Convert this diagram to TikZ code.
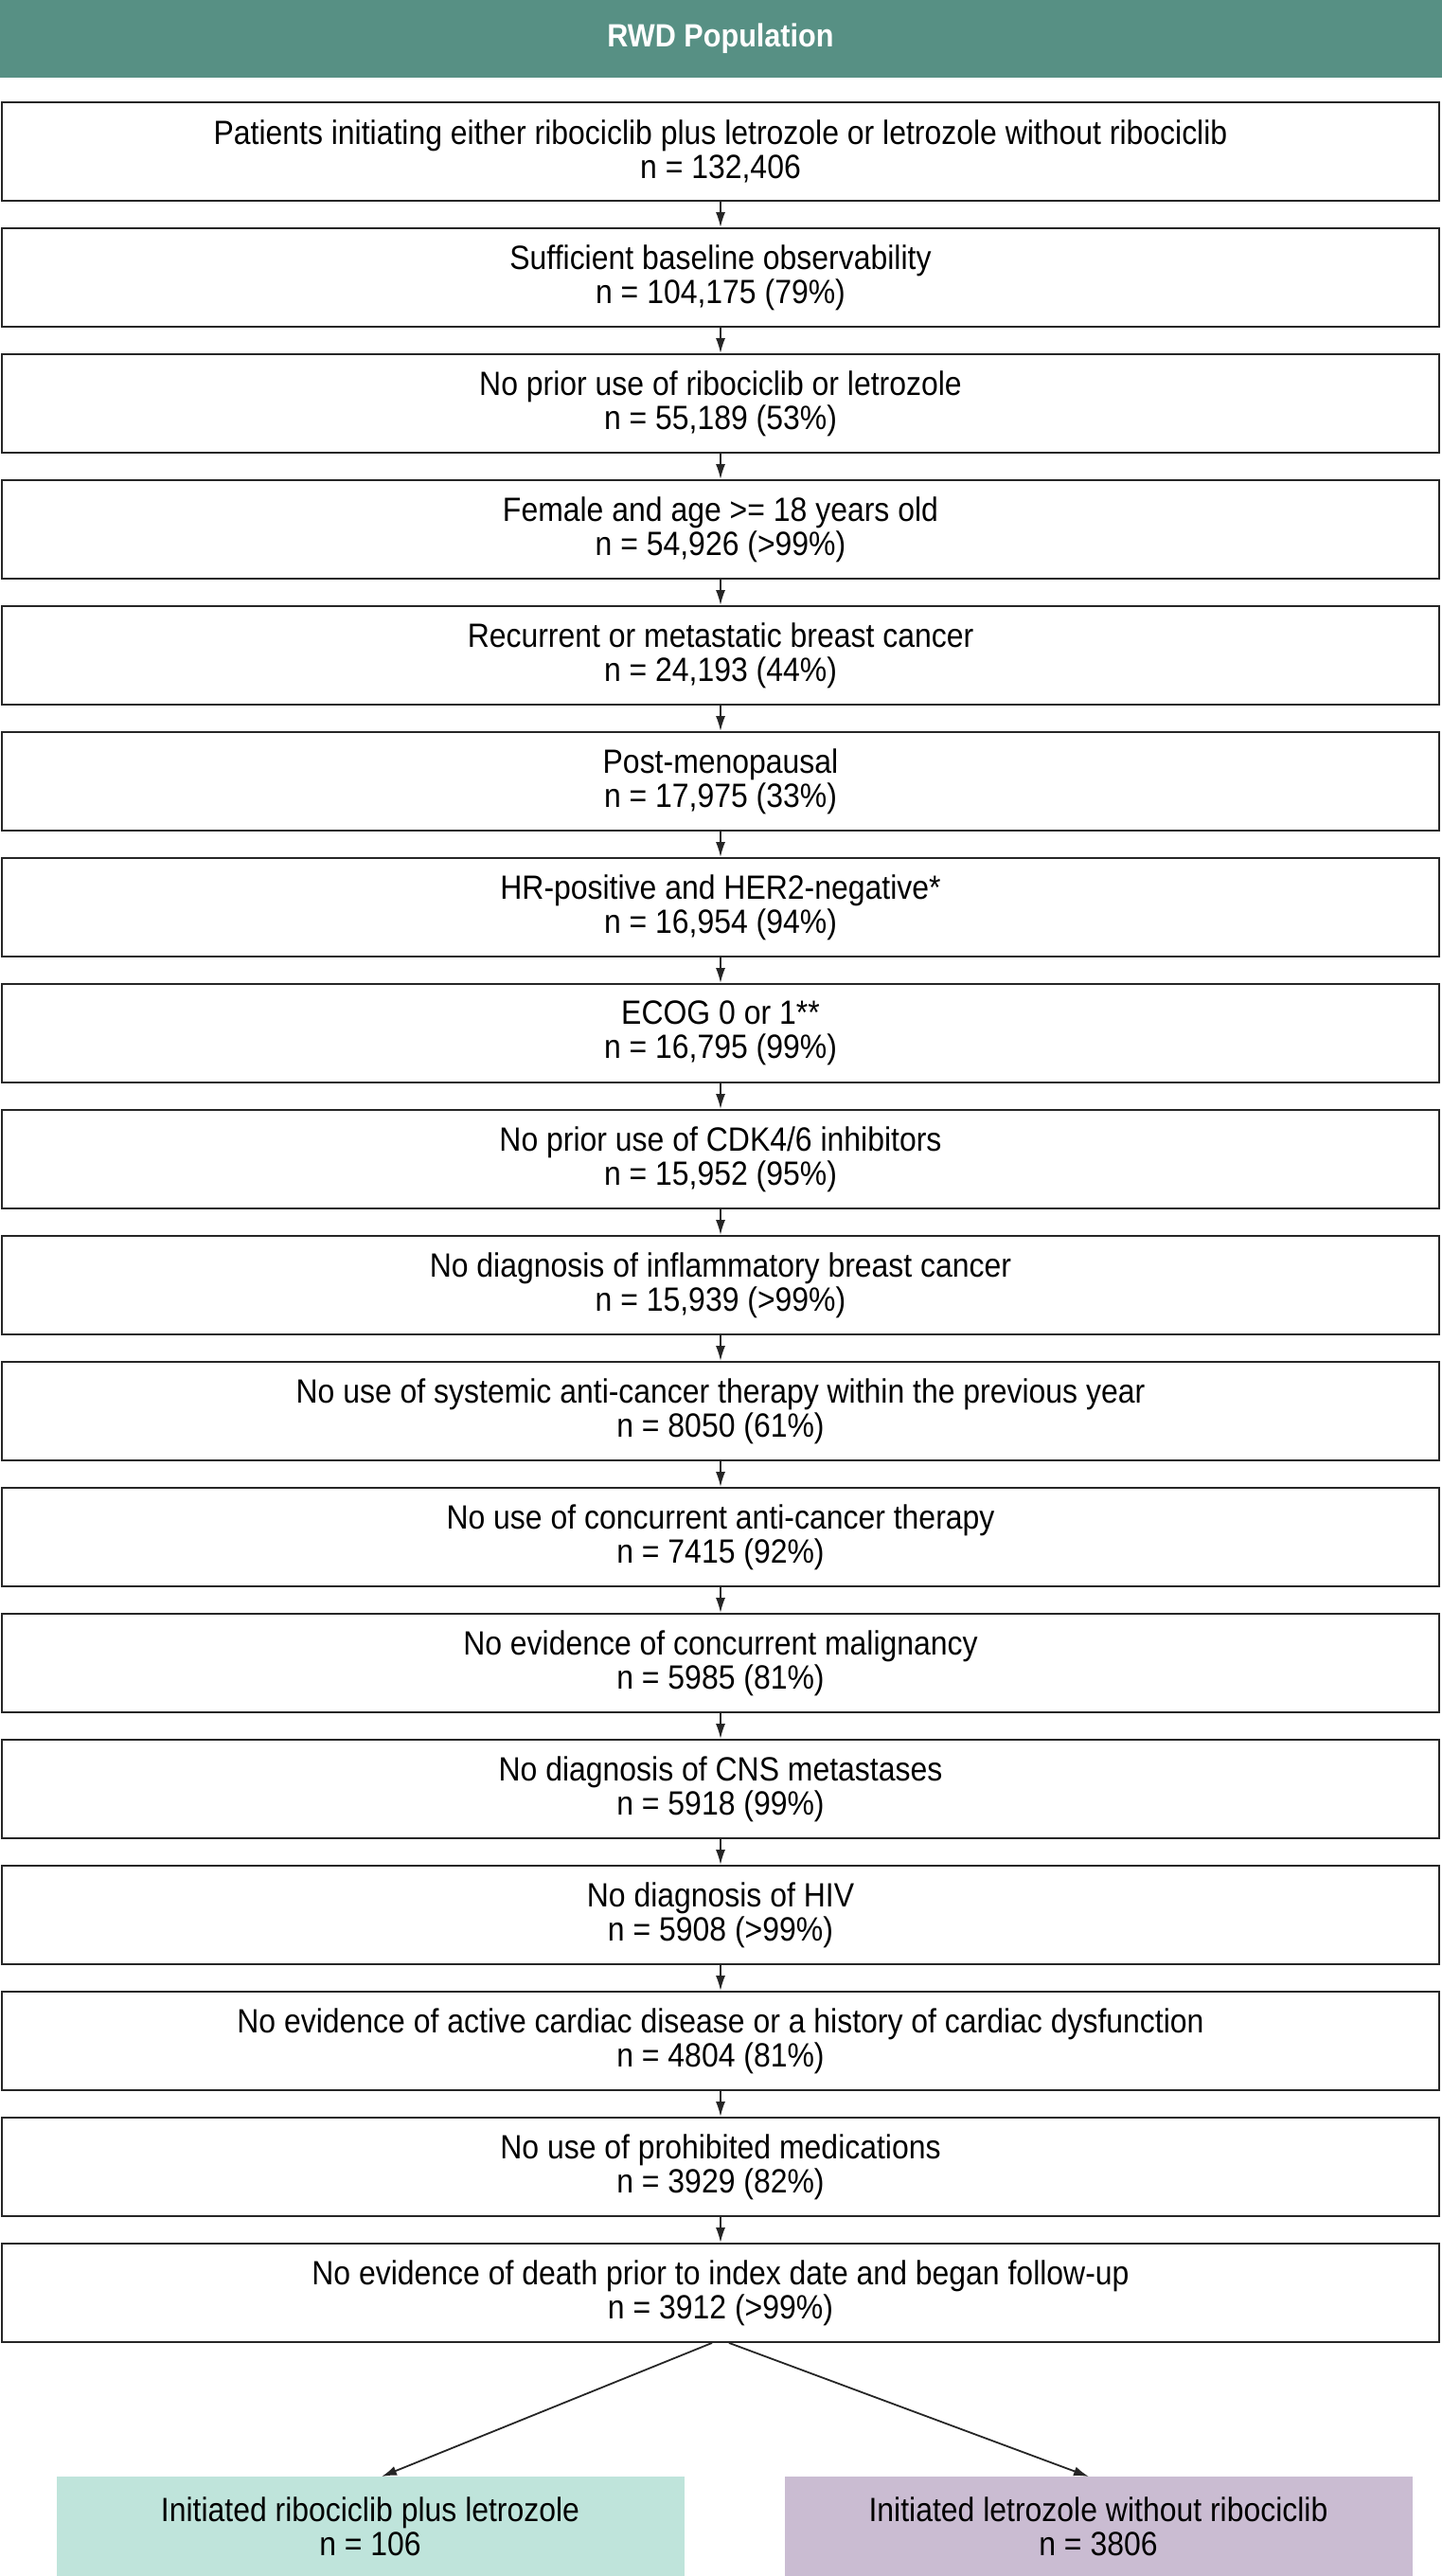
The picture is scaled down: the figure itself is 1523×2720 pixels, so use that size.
\documentclass[tikz,border=0pt]{standalone}
\usepackage{fontspec}
\setmainfont{Liberation Sans}[FakeStretch=0.9]
\usetikzlibrary{arrows.meta}
\definecolor{hdr}{RGB}{87,144,132}
\definecolor{lt}{RGB}{191,228,219}
\definecolor{lil}{RGB}{202,188,210}
\tikzset{
  sbox/.style={draw=black!85,line width=1.8pt,minimum width=1518pt,minimum height=104pt,align=center,inner sep=0pt,
    font=\fontsize{35.5}{36}\selectfont},
  obox/.style={minimum width=663pt,minimum height=105pt,align=center,inner sep=0pt,font=\fontsize{35.5}{36}\selectfont},
  arr/.style={draw=black!85,line width=1.8pt,-{Latex[length=16pt,width=10pt]}}
}
\begin{document}
\begin{tikzpicture}[x=1pt,y=1pt]
\useasboundingbox (0,0) rectangle (1523,-2720);
\fill[hdr] (0,0) rectangle (1523,-82);
\node[font=\bfseries\fontsize{34}{38}\selectfont,text=white] (hd) at (761,-41) {RWD Population};
\foreach \i/\t in {
0/{Patients initiating either ribociclib plus letrozole or letrozole without ribociclib\\n = 132,406},
1/{Sufficient baseline observability\\n = 104,175 (79\%)},
2/{No prior use of ribociclib or letrozole\\n = 55,189 (53\%)},
3/{Female and age >= 18 years old\\n = 54,926 (>99\%)},
4/{Recurrent or metastatic breast cancer\\n = 24,193 (44\%)},
5/{Post-menopausal\\n = 17,975 (33\%)},
6/{HR-positive and HER2-negative*\\n = 16,954 (94\%)},
7/{ECOG 0 or 1**\\n = 16,795 (99\%)},
8/{No prior use of CDK4/6 inhibitors\\n = 15,952 (95\%)},
9/{No diagnosis of inflammatory breast cancer\\n = 15,939 (>99\%)},
10/{No use of systemic anti-cancer therapy within the previous year\\n = 8050 (61\%)},
11/{No use of concurrent anti-cancer therapy\\n = 7415 (92\%)},
12/{No evidence of concurrent malignancy\\n = 5985 (81\%)},
13/{No diagnosis of CNS metastases\\n = 5918 (99\%)},
14/{No diagnosis of HIV\\n = 5908 (>99\%)},
15/{No evidence of active cardiac disease or a history of cardiac dysfunction\\n = 4804 (81\%)},
16/{No use of prohibited medications\\n = 3929 (82\%)},
17/{No evidence of death prior to index date and began follow-up\\n = 3912 (>99\%)}}
{\node[sbox] (b\i) at (761,{-160-133*\i}) {\t};}
\foreach \i [evaluate=\i as \j using int(\i+1)] in {0,...,16}
  {\draw[arr] (b\i.south) -- (b\j.north);}
\node[obox,fill=lt] (L) at (391,-2667.5) {Initiated ribociclib plus letrozole\\n = 106};
\node[obox,fill=lil] (R) at (1160,-2667.5) {Initiated letrozole without ribociclib\\n = 3806};
\coordinate (la) at (403,-2615);
\coordinate (ra) at (1150,-2615);
\draw[arr] ([xshift=-9pt]b17.south) -- (la);
\draw[arr] ([xshift=9pt]b17.south) -- (ra);
\end{tikzpicture}
\end{document}
